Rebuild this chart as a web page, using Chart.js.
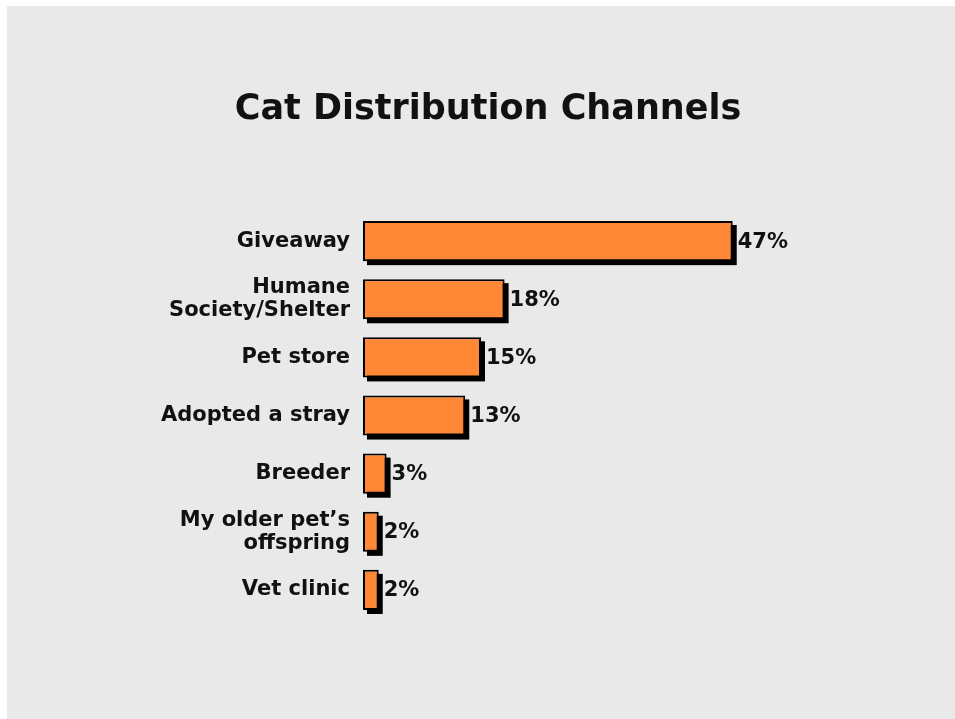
<!DOCTYPE html>
<html>
<head>
<meta charset="utf-8">
<script src="https://cdn.jsdelivr.net/npm/chart.js@4"></script>
<style>
  html, body { margin: 0; padding: 0; background: #ffffff; }
  #panel { position: absolute; left: 7px; top: 6px; right: 0; bottom: 0; background: #e9e9e9; }
  #chart { position: absolute; left: 0; top: 0; }
</style>
</head>
<body>
<div id="panel"></div>
<canvas id="chart" width="955" height="719"></canvas>
<script>
// ─── Cat distribution channels ───
const chartTitle = 'Cat Distribution Channels';
const channels = [
  'Giveaway',
  ['Humane', 'Society/Shelter'],
  'Pet store',
  'Adopted a stray',
  'Breeder',
  ["My older pet\u2019s", 'offspring'],
  'Vet clinic'
];
const shares = [47, 18, 15, 13, 3, 2, 2];

const FONT = "'DejaVu Sans', Verdana, sans-serif";
const ORANGE = '#ff8836';
const INK = '#111111';

// title centred a bit right of the canvas middle
const titleText = {
  id: 'titleText',
  afterDraw(chart) {
    const c = chart.ctx;
    c.save();
    c.font = 'bold 35px ' + FONT;
    c.fillStyle = INK;
    c.textAlign = 'center';
    c.textBaseline = 'middle';
    c.fillText(chartTitle, 488, 110);
    c.restore();
  }
};

// hard black drop shadow behind every bar
const barShadow = {
  id: 'barShadow',
  beforeDatasetsDraw(chart) {
    const c = chart.ctx;
    const meta = chart.getDatasetMeta(0);
    c.save();
    c.fillStyle = '#000000';
    meta.data.forEach(bar => {
      const h = bar.height;
      c.fillRect(bar.base + 4, bar.y - h / 2 + 4, bar.x - bar.base, h);
    });
    c.restore();
  }
};

// percentage just past the end of each bar
const valueLabels = {
  id: 'valueLabels',
  afterDatasetsDraw(chart) {
    const c = chart.ctx;
    const meta = chart.getDatasetMeta(0);
    c.save();
    c.font = 'bold 21px ' + FONT;
    c.fillStyle = INK;
    c.textAlign = 'left';
    c.textBaseline = 'middle';
    meta.data.forEach((bar, i) => {
      c.fillText(shares[i] + '%', bar.x + 5, bar.y + 1);
    });
    c.restore();
  }
};

new Chart(document.getElementById('chart'), {
  type: 'bar',
  data: {
    labels: channels,
    datasets: [{
      data: shares,
      backgroundColor: ORANGE,
      borderColor: '#000000',
      borderWidth: 2,
      borderSkipped: false,
      barPercentage: 0.69,
      categoryPercentage: 1.0
    }]
  },
  options: {
    indexAxis: 'y',
    responsive: false,
    animation: false,
    layout: { padding: { left: 7, right: 120, top: 212, bottom: 100 } },
    plugins: {
      legend: { display: false },
      tooltip: { enabled: false },
      title: { display: false }
    },
    scales: {
      x: {
        display: false,
        min: 0,
        max: 60
      },
      y: {
        afterFit(scale) { scale.width = 356; },
        grid: { display: false, drawTicks: false },
        border: { display: false },
        ticks: {
          color: INK,
          padding: 13,
          font: { family: FONT, size: 21, weight: 'bold', lineHeight: 1.1 }
        }
      }
    }
  },
  plugins: [barShadow, valueLabels, titleText]
});
</script>
</body>
</html>
